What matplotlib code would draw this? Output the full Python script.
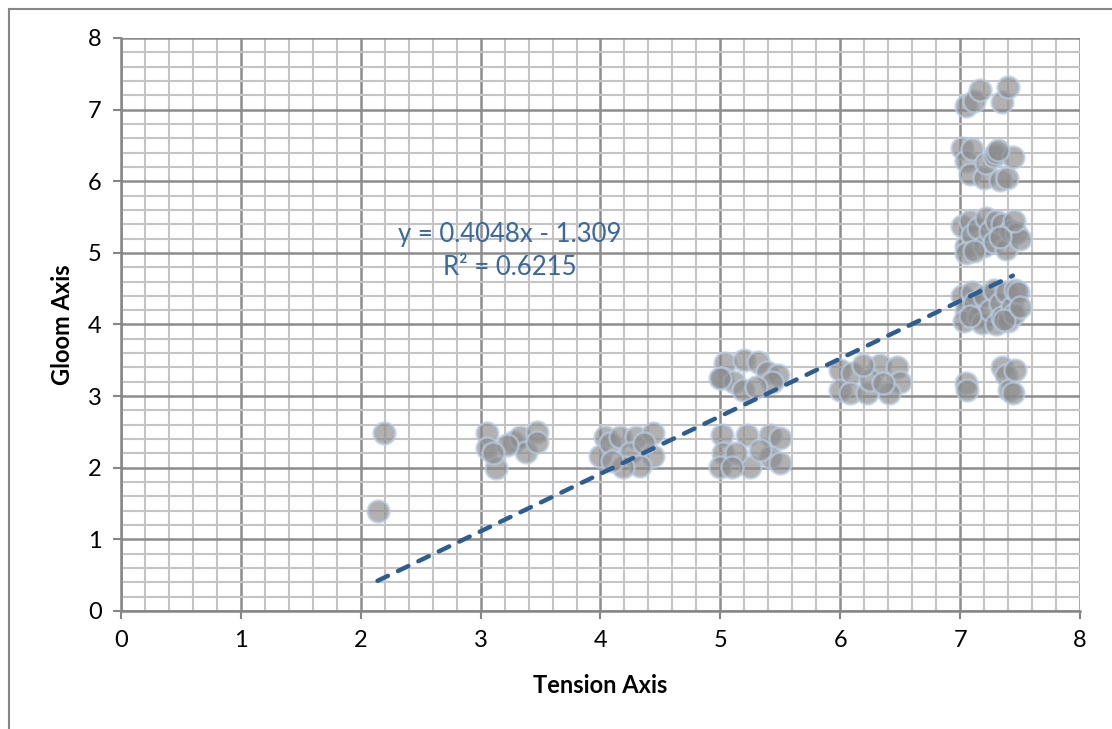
import numpy as np
import matplotlib
matplotlib.use("Agg")
import matplotlib.pyplot as plt
from matplotlib.lines import Line2D
from matplotlib.ticker import MultipleLocator

plt.rcParams['font.family'] = ['Lato', 'DejaVu Sans']

# data, grouped by cluster
tension_2 = [2.19, 2.14]
gloom_2 = [2.49, 1.40]

tension_3 = [3.05, 3.05, 3.13, 3.27, 3.33, 3.47, 3.38, 3.47, 3.22, 3.10]
gloom_3 = [2.49, 2.27, 1.99, 2.36, 2.43, 2.50, 2.22, 2.36, 2.32, 2.20]

tension_4 = [4.04, 4.00, 4.08, 4.16, 4.30, 4.44, 4.44, 4.25, 4.33, 4.19, 4.10, 4.36]
gloom_4 = [2.43, 2.16, 2.34, 2.43, 2.43, 2.49, 2.16, 2.20, 2.02, 2.01, 2.10, 2.34]

tension_5a = [5.04, 5.01, 5.20, 5.31, 5.11, 5.19, 5.39, 5.48, 5.43, 5.30, 5.00]
gloom_5a = [3.46, 3.25, 3.50, 3.48, 3.20, 3.09, 3.34, 3.30, 3.20, 3.13, 3.25]

tension_5b = [5.01, 5.02, 5.00, 5.22, 5.41, 5.50, 5.41, 5.50, 5.25, 5.13, 5.10, 5.33]
gloom_5b = [2.46, 2.20, 2.01, 2.46, 2.46, 2.41, 2.15, 2.06, 2.01, 2.20, 2.01, 2.25]

tension_6 = [6.00, 6.00, 6.10, 6.08, 6.33, 6.47, 6.50, 6.41, 6.22, 6.25, 6.19, 6.36]
gloom_6 = [3.37, 3.09, 3.32, 3.04, 3.43, 3.41, 3.20, 3.04, 3.04, 3.23, 3.43, 3.18]

tension_7_3 = [7.05, 7.06, 7.35, 7.38, 7.41, 7.46, 7.44]
gloom_7_3 = [3.18, 3.08, 3.40, 3.30, 3.08, 3.37, 3.05]

tension_7_4 = [7.02, 7.05, 7.03, 7.10, 7.12, 7.15, 7.18, 7.20, 7.25, 7.28,
               7.30, 7.33, 7.35, 7.38, 7.40, 7.43, 7.46, 7.48, 7.45, 7.08,
               7.37, 7.50]
gloom_7_4 = [4.40, 4.20, 4.05, 4.45, 4.30, 4.10, 4.02, 4.40, 4.20, 4.48,
             4.00, 4.30, 4.10, 4.45, 4.05, 4.25, 4.48, 4.45, 4.15, 4.12,
             4.06, 4.25]

tension_7_5 = [7.02, 7.05, 7.08, 7.10, 7.05, 7.15, 7.20, 7.22, 7.25, 7.30,
               7.28, 7.35, 7.38, 7.42, 7.47, 7.50, 7.45, 7.12, 7.33]
gloom_7_5 = [5.38, 5.10, 5.45, 5.25, 5.00, 5.35, 5.10, 5.48, 5.30, 5.45,
             5.15, 5.40, 5.05, 5.30, 5.28, 5.20, 5.45, 5.02, 5.22]

tension_7_6 = [7.02, 7.05, 7.08, 7.10, 7.20, 7.22, 7.28, 7.30, 7.33, 7.39, 7.44, 7.32]
gloom_7_6 = [6.47, 6.28, 6.10, 6.45, 6.05, 6.25, 6.35, 6.40, 6.02, 6.05, 6.34, 6.44]

tension_7_7 = [7.05, 7.12, 7.17, 7.35, 7.40]
gloom_7_7 = [7.05, 7.12, 7.28, 7.10, 7.32]

# trendline as drawn in the picture
trend_slope = 0.804
trend_intercept = -1.30
trend_label = "y = 0.4048x - 1.309\nR² = 0.6215"

tension = np.concatenate([tension_2, tension_3, tension_4, tension_5a, tension_5b,
                          tension_6, tension_7_3, tension_7_4, tension_7_5,
                          tension_7_6, tension_7_7])
gloom = np.concatenate([gloom_2, gloom_3, gloom_4, gloom_5a, gloom_5b,
                        gloom_6, gloom_7_3, gloom_7_4, gloom_7_5,
                        gloom_7_6, gloom_7_7])

fig = plt.figure(figsize=(11.12, 7.29), dpi=100)
ax = fig.add_axes([0.1088, 0.1619, 0.8624, 0.7860])

ax.set_xlim(0, 8)
ax.set_ylim(0, 8)
ax.xaxis.set_major_locator(MultipleLocator(1))
ax.yaxis.set_major_locator(MultipleLocator(1))
ax.xaxis.set_minor_locator(MultipleLocator(0.2))
ax.yaxis.set_minor_locator(MultipleLocator(0.2))
ax.grid(which="minor", color="#c4c4c4", linewidth=1.5, zorder=0)
ax.grid(which="major", color="#8c8c8c", linewidth=1.8, zorder=0)
ax.set_axisbelow(True)

for side in ["top", "right"]:
    ax.spines[side].set_visible(False)
for side in ["left", "bottom"]:
    ax.spines[side].set_color("#868686")
    ax.spines[side].set_linewidth(1.8)

ax.tick_params(which="major", length=6, width=1.5, color="#868686",
               labelsize=17, pad=8)
ax.tick_params(which="minor", length=0)

ax.scatter(tension, gloom, s=250, facecolor="#8c8c8c", alpha=0.68,
           edgecolor="#b9cde5", linewidth=1.8, zorder=3)

xs = np.array([tension.min(), 7.44])
ax.plot(xs, trend_slope * xs + trend_intercept, color="#2e5d91",
        linewidth=3.2, linestyle=(0, (2.6, 2.5)), dash_capstyle="round",
        zorder=4)

ax.text(3.24, 5.03, trend_label, ha="center", va="center", fontsize=18.5,
        color="#3a679c", linespacing=1.4, zorder=5)

ax.set_xlabel("Tension Axis", fontsize=17, fontweight="bold", labelpad=16)
ax.set_ylabel("Gloom Axis", fontsize=17, fontweight="bold", labelpad=10)

# chart frame
fx = 9 / 1112
fy = 1 - 9 / 729
fig.add_artist(Line2D([fx, fx], [0, fy], color="#868686", linewidth=1.5,
                      transform=fig.transFigure))
fig.add_artist(Line2D([fx, 1], [fy, fy], color="#868686", linewidth=1.5,
                      transform=fig.transFigure))

fig.savefig("out.png", dpi=100)
plt.close(fig)
